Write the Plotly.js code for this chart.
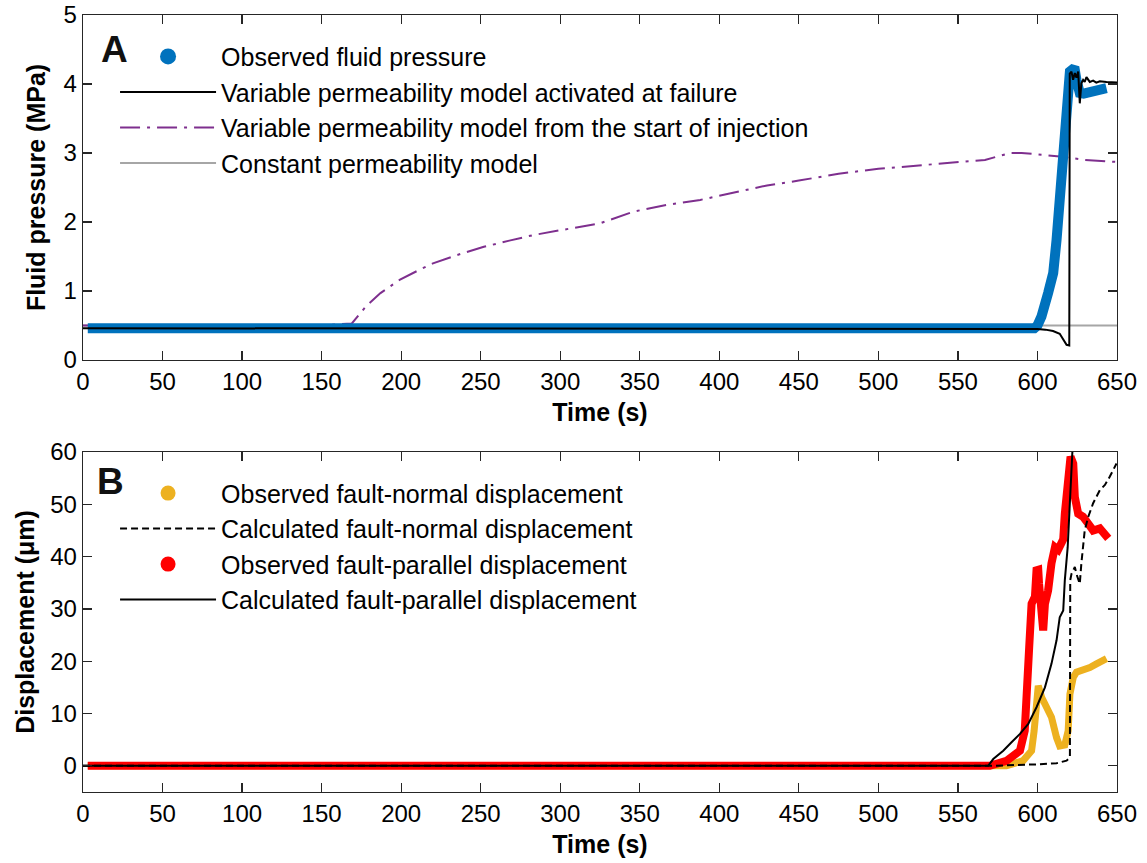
<!DOCTYPE html>
<html>
<head>
<meta charset="utf-8">
<script src="https://cdn.plot.ly/plotly-3.0.1.min.js"></script>
<style>html,body{margin:0;padding:0;background:#fff;}#plot{width:1147px;height:863px;}</style>
</head>
<body>
<div id="plot"></div>
<script>
// ---- Panel A: fluid pressure (MPa) vs time (s) ----
const obsPressT = [3, 300, 598, 600, 602.5, 606.7, 609.9, 612, 613.6, 615.1, 616.6, 617.8, 618.7, 620.4, 622, 623.5, 624.5, 626.6, 629, 632.9, 637, 640, 643.4];
const obsPressP = [0.46, 0.46, 0.46, 0.5, 0.63, 0.97, 1.26, 1.74, 2.22, 2.71, 3.19, 3.67, 4.01, 4.18, 4.21, 4.2, 4.06, 3.87, 3.86, 3.89, 3.91, 3.93, 3.94];

const varFailT = [0, 300, 580, 590, 600, 605, 609.8, 614, 616.2, 618.3, 620, 620.3, 621.4, 622.4, 623.5, 624.5, 625.6, 626.6, 627.6, 628.7, 629.7, 630.8, 632.9, 635, 637, 639.2, 643.4, 650];
const varFailP = [0.46, 0.46, 0.46, 0.45, 0.45, 0.44, 0.42, 0.38, 0.29, 0.22, 0.21, 4.15, 4.18, 4.06, 4.16, 4.09, 4.18, 3.72, 4.01, 4.06, 4.03, 4.1, 4.03, 4.05, 4.02, 4.04, 4.03, 4.02];

const varStartT = [0, 150, 169, 178, 187, 199, 210, 220, 235, 252, 268, 283, 300, 325, 346, 365, 388, 410, 430, 450, 475, 500, 525, 551, 567, 583, 590, 600, 614, 630, 650];
const varStartP = [0.5, 0.5, 0.53, 0.78, 0.97, 1.16, 1.29, 1.40, 1.52, 1.64, 1.73, 1.81, 1.88, 1.98, 2.15, 2.24, 2.32, 2.43, 2.53, 2.6, 2.7, 2.77, 2.82, 2.87, 2.9, 3.0, 3.0, 2.98, 2.95, 2.9, 2.87];

const constT = [0, 650];
const constP = [0.5, 0.5];

// ---- Panel B: displacement (um) vs time (s) ----
const obsNormT = [3, 300, 570, 580.5, 591, 596.3, 597.9, 599.4, 600.5, 602.6, 605.7, 608.8, 612, 614, 617.2, 619.3, 620.4, 622.5, 624.5, 628.7, 632.9, 637.1, 641.3, 643.4];
const obsNormD = [0, 0, 0, 0, 1, 2.9, 6.7, 13.1, 15.3, 13.1, 11.2, 9.3, 5.4, 3.8, 4.0, 6.7, 13.7, 16.9, 17.9, 18.2, 18.8, 19.5, 20.1, 20.5];

const calcNormT = [0, 570, 601.4, 612, 618.3, 620.4, 620.6, 621.4, 622.5, 623.5, 624.5, 626.6, 627.6, 629.7, 631.9, 635, 639.2, 642.4, 645.5, 649.7];
const calcNormD = [0, 0, 0.3, 0.5, 1, 1.6, 35.5, 36.7, 37.4, 38, 36.7, 34.8, 38.7, 45, 47.6, 50.2, 52.7, 53.7, 55.3, 57.8];

const obsParT = [3, 300, 570, 580.5, 589, 592, 593.5, 594.8, 596.3, 598.4, 599.4, 600.5, 601, 601.4, 602.6, 603.6, 604.7, 606.7, 608.8, 611, 613, 615.1, 616.2, 617.2, 619.3, 620.8, 622.5, 623.5, 625.6, 628.7, 631.9, 635, 639.2, 642.4, 644.5];
const obsParD = [0, 0, 0, 0.96, 2.9, 6.7, 13, 22.7, 31, 32.3, 37.4, 37.5, 34.8, 32.3, 28.4, 25.9, 31, 33.5, 38.7, 41.8, 41.3, 42.5, 43.3, 48.2, 57.8, 59.1, 57.8, 51.4, 48.2, 47.6, 46.3, 45, 45.4, 44.4, 43.5];

const calcParT = [0, 569, 572.2, 578.5, 583.7, 589, 594.2, 599.4, 604.7, 608.8, 612, 614, 616.2, 617.2, 619, 620.4, 622.1];
const calcParD = [0, 0, 1.3, 2.9, 4.5, 6.1, 8, 11.2, 15, 19.5, 24, 28.4, 29.7, 35.5, 41.8, 51.4, 61];

const timeTicks = [0, 50, 100, 150, 200, 250, 300, 350, 400, 450, 500, 550, 600, 650];

const FONT = 'Liberation Sans, Arial, Helvetica, sans-serif';
const BLUE = '#0072BD', PURPLE = '#7E2F8E', GRAY = '#A6A6A6', YELLOW = '#EDB120', RED = '#FF0000';

const traces = [
  // Panel A (draw order: gray, purple, blue, black)
  {x: constT, y: constP, mode: 'lines', line: {color: GRAY, width: 2}, name: 'Constant permeability model',
   xaxis: 'x', yaxis: 'y', legend: 'legend', legendrank: 4},
  {x: varStartT, y: varStartP, mode: 'lines', line: {color: PURPLE, width: 2, dash: '20px,7px,3px,7px'},
   name: 'Variable permeability model from the start of injection', xaxis: 'x', yaxis: 'y', legend: 'legend', legendrank: 3},
  {x: obsPressT, y: obsPressP, mode: 'lines', line: {color: BLUE, width: 10}, name: 'Observed fluid pressure',
   showlegend: false, xaxis: 'x', yaxis: 'y'},
  {x: [null], y: [null], mode: 'markers', marker: {color: BLUE, size: 16}, name: 'Observed fluid pressure',
   xaxis: 'x', yaxis: 'y', legend: 'legend', legendrank: 1},
  {x: varFailT, y: varFailP, mode: 'lines', line: {color: '#000', width: 2},
   name: 'Variable permeability model activated at failure', xaxis: 'x', yaxis: 'y', legend: 'legend', legendrank: 2},

  // Panel B
  {x: obsNormT, y: obsNormD, mode: 'lines', line: {color: YELLOW, width: 7}, name: 'Observed fault-normal displacement',
   showlegend: false, xaxis: 'x2', yaxis: 'y2'},
  {x: [null], y: [null], mode: 'markers', marker: {color: YELLOW, size: 15}, name: 'Observed fault-normal displacement',
   xaxis: 'x2', yaxis: 'y2', legend: 'legend2', legendrank: 1},
  {x: obsParT, y: obsParD, mode: 'lines', line: {color: RED, width: 8}, name: 'Observed fault-parallel displacement',
   showlegend: false, xaxis: 'x2', yaxis: 'y2'},
  {x: [null], y: [null], mode: 'markers', marker: {color: RED, size: 15}, name: 'Observed fault-parallel displacement',
   xaxis: 'x2', yaxis: 'y2', legend: 'legend2', legendrank: 3},
  {x: calcNormT, y: calcNormD, mode: 'lines', line: {color: '#000', width: 2, dash: '7px,4px'},
   name: 'Calculated fault-normal displacement', xaxis: 'x2', yaxis: 'y2', legend: 'legend2', legendrank: 2},
  {x: calcParT, y: calcParD, mode: 'lines', line: {color: '#000', width: 2},
   name: 'Calculated fault-parallel displacement', xaxis: 'x2', yaxis: 'y2', legend: 'legend2', legendrank: 4}
];

const axCommon = {
  showline: true, linecolor: '#262626', linewidth: 1.3, mirror: 'allticks',
  ticks: 'inside', ticklen: 9, tickwidth: 1.3, tickcolor: '#262626',
  showgrid: false, zeroline: false,
  tickfont: {family: FONT, size: 24, color: '#000'}
};
const xTitle = {text: 'Time (s)', font: {family: FONT, size: 25, color: '#000', weight: 'bold'}, standoff: 9};

const layout = {
  width: 1147, height: 863,
  margin: {l: 83, r: 30, t: 15, b: 71},
  paper_bgcolor: '#fff', plot_bgcolor: '#fff',
  font: {family: FONT, color: '#000'},
  xaxis: Object.assign({}, axCommon, {domain: [0, 1], range: [0, 650], tickvals: timeTicks, anchor: 'y', title: xTitle}),
  yaxis: Object.assign({}, axCommon, {domain: [0.556, 1], range: [0, 5], dtick: 1, anchor: 'x',
    title: {text: 'Fluid pressure (MPa)', font: {family: FONT, size: 25, color: '#000', weight: 'bold'}, standoff: 10}}),
  xaxis2: Object.assign({}, axCommon, {domain: [0, 1], range: [0, 650], tickvals: timeTicks, anchor: 'y2', title: xTitle}),
  yaxis2: Object.assign({}, axCommon, {domain: [0, 0.4376], range: [-5, 60], tickvals: [0, 10, 20, 30, 40, 50, 60], anchor: 'x2',
    title: {text: 'Displacement (μm)', font: {family: FONT, size: 25, color: '#000', weight: 'bold'}, standoff: 8}}),
  legend: {x: 0.031, y: 0.976, xanchor: 'left', yanchor: 'top', xref: 'paper', yref: 'paper',
    bgcolor: 'rgba(0,0,0,0)', borderwidth: 0, itemwidth: 96, tracegroupgap: 0,
    font: {family: FONT, size: 25, color: '#000'}},
  legend2: {x: 0.031, y: 0.414, xanchor: 'left', yanchor: 'top', xref: 'paper', yref: 'paper',
    bgcolor: 'rgba(0,0,0,0)', borderwidth: 0, itemwidth: 96, tracegroupgap: 0,
    font: {family: FONT, size: 25, color: '#000'}},
  annotations: [
    {text: '<b>A</b>', xref: 'x domain', yref: 'y domain', x: 0.03, y: 0.899, xanchor: 'center', yanchor: 'middle',
     showarrow: false, font: {family: FONT, size: 37, color: '#111'}},
    {text: '<b>B</b>', xref: 'x2 domain', yref: 'y2 domain', x: 0.027, y: 0.912, xanchor: 'center', yanchor: 'middle',
     showarrow: false, font: {family: FONT, size: 37, color: '#111'}}
  ],
  showlegend: true
};

Plotly.newPlot('plot', traces, layout, {displayModeBar: false, staticPlot: true});
</script>
</body>
</html>
